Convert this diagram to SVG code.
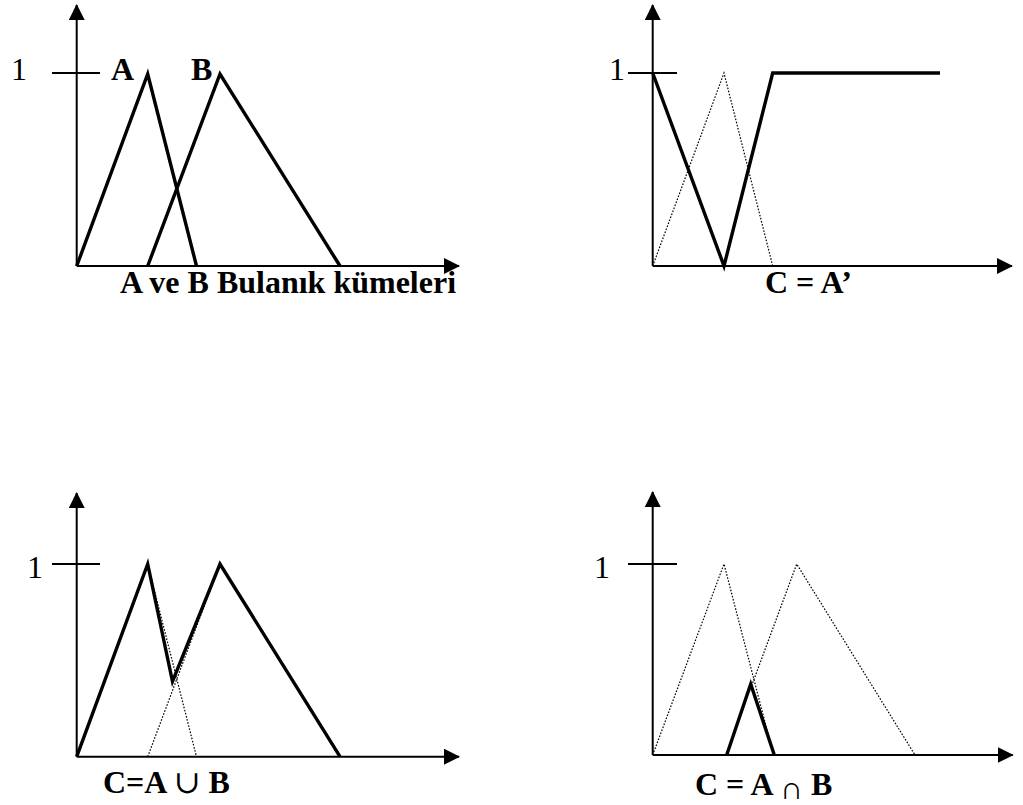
<svg xmlns="http://www.w3.org/2000/svg" width="1023" height="805" viewBox="0 0 1023 805">
<style>
.ax{stroke:#000;stroke-width:2;fill:none}
.tk{stroke:#000;stroke-width:2;fill:none}
.th{stroke:#000;stroke-width:3.4;fill:none;stroke-linejoin:miter;stroke-linecap:butt}
.dt{stroke:#000;stroke-width:1.2;fill:none;stroke-dasharray:1.6 1.6}
.num{font-family:"Liberation Serif","DejaVu Serif",serif;font-size:32px;fill:#000}
.lb{font-family:"Liberation Serif","DejaVu Serif",serif;font-size:32px;font-weight:bold;fill:#000}
.sym{font-weight:normal}
</style>
<defs>
<marker id="arr" markerUnits="userSpaceOnUse" markerWidth="16" markerHeight="16" refX="15" refY="8" orient="auto">
<path d="M0,0 L16,8 L0,16 z" fill="#000"/>
</marker>
</defs>
<rect width="1023" height="805" fill="#fff"/>

<g id="panel-ab">
<line class="ax" x1="76.7" y1="266" x2="76.7" y2="5" marker-end="url(#arr)"/>
<line class="ax" x1="76.7" y1="266" x2="459" y2="266" marker-end="url(#arr)"/>
<line class="tk" x1="52" y1="73" x2="100" y2="73"/>
<text class="num" x="11" y="80">1</text>
<text class="lb" x="111" y="80">A</text>
<text class="lb" x="191" y="80">B</text>
<polyline class="th" points="76.7,266 147.7,74 196.5,266"/>
<polyline class="th" points="147.7,266 220,74 340,266"/>
<text class="lb" x="120" y="293">A ve B Bulanık kümeleri</text>
</g>

<g id="panel-complement">
<line class="ax" x1="652.7" y1="266" x2="652.7" y2="5" marker-end="url(#arr)"/>
<line class="ax" x1="652.7" y1="266" x2="1012" y2="266" marker-end="url(#arr)"/>
<line class="tk" x1="628" y1="73" x2="677" y2="73"/>
<text class="num" x="609" y="80">1</text>
<polyline class="dt" points="652.7,266 724,73 772.7,266"/>
<polyline class="th" points="652.7,73 724,266 772.7,73 940,73"/>
<text class="lb" x="765" y="293">C = A’</text>
</g>

<g id="panel-union">
<line class="ax" x1="76.7" y1="756.7" x2="76.7" y2="493" marker-end="url(#arr)"/>
<line class="ax" x1="76.7" y1="756.7" x2="459" y2="756.7" marker-end="url(#arr)"/>
<line class="tk" x1="52" y1="564" x2="100" y2="564"/>
<text class="num" x="27" y="578">1</text>
<line class="dt" x1="147.7" y1="564" x2="196.5" y2="756.7"/>
<line class="dt" x1="147.7" y1="756.7" x2="220" y2="564"/>
<polyline class="th" points="76.7,756.7 147.7,564 172.5,681.5 220,564 340,756.7"/>
<text class="lb" x="103" y="793">C=A <tspan class="sym">∪</tspan> B</text>
</g>

<g id="panel-intersection">
<line class="ax" x1="652.7" y1="755" x2="652.7" y2="492" marker-end="url(#arr)"/>
<line class="ax" x1="652.7" y1="755" x2="1012.7" y2="755" marker-end="url(#arr)"/>
<line class="tk" x1="628" y1="564" x2="677" y2="564"/>
<text class="num" x="594" y="578">1</text>
<polyline class="dt" points="652.7,755 724,564 773.5,755"/>
<polyline class="dt" points="726,755 796.7,564 915,755"/>
<polyline class="th" points="726.7,755 750.7,684 774.3,755"/>
<text class="lb" x="695" y="795">C = A <tspan class="sym" dy="4">∩</tspan><tspan dy="-4"> B</tspan></text>
</g>
</svg>
